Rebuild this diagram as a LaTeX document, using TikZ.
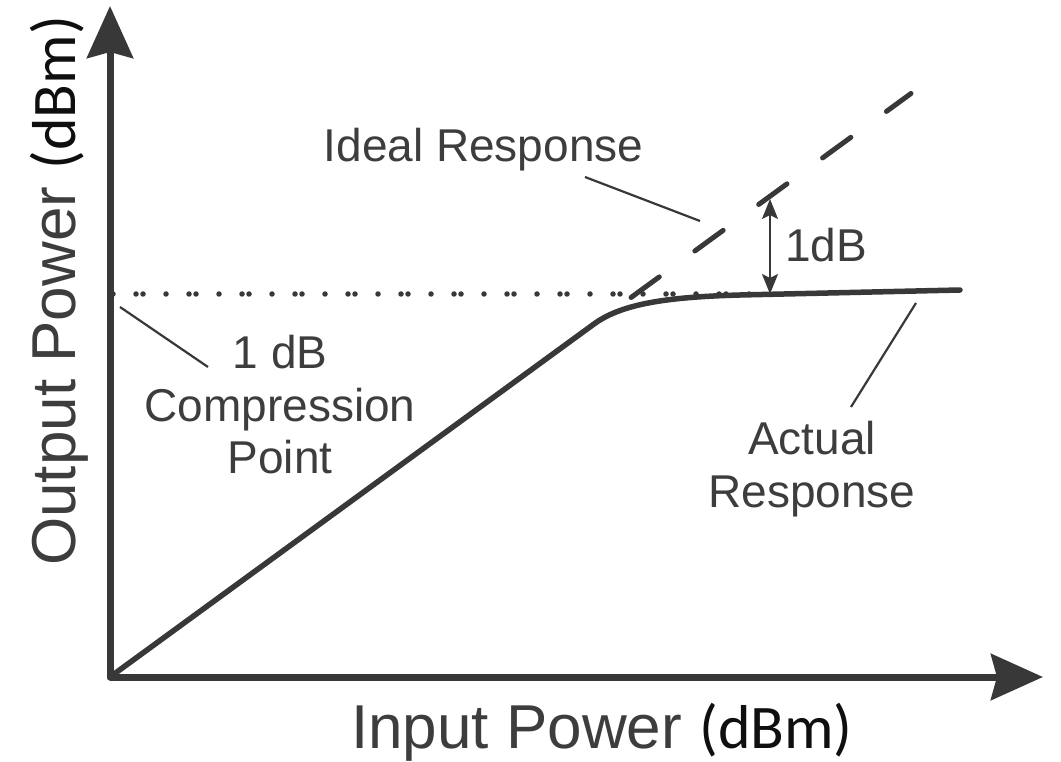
\documentclass[tikz,border=0pt]{standalone}
\usepackage{fontspec}
\setmainfont{Liberation Sans}
\newfontfamily\calfont{Carlito}
\usetikzlibrary{arrows.meta}
\definecolor{ink}{gray}{0.22}
\definecolor{txt}{gray}{0.24}
\definecolor{dark}{gray}{0.06}
\tikzset{
  axisline/.style={draw=ink, line width=7pt, line join=round,
    {Stealth[length=52pt,width=46pt,inset=6pt]}-{Stealth[length=52pt,width=46pt,inset=6pt]}},
  actual/.style={draw=ink, line width=5.5pt, line cap=round, line join=round},
  ideal/.style={draw=ink, line width=5pt, line cap=round, dash pattern=on 35pt off 44pt},
  dotline/.style={draw=ink, line width=5.5pt, line cap=round, dash pattern=on 0pt off 23pt on 0pt off 7pt on 0pt off 23pt},
  dimline/.style={draw=ink, line width=2pt,
    {Stealth[length=20pt,width=16pt,inset=4pt]}-{Stealth[length=20pt,width=16pt,inset=4pt]}},
  leader/.style={draw=ink, line width=2.2pt},
  lbl/.style={text=txt, inner sep=0pt, font=\fontsize{46}{52.5}\selectfont, align=center},
  axlbl/.style={inner sep=0pt, font=\fontsize{62}{70}\selectfont},
}
\begin{document}
\begin{tikzpicture}[x=1pt,y=-1pt]
\useasboundingbox (0,0) rectangle (1061,762);
% axes
\coordinate (O) at (110,677);
\coordinate (ytip) at (110,6);
\coordinate (xtip) at (1043,677);
\draw[axisline] (ytip) -- (O) -- (xtip);
% dotted reference line
\coordinate (d0) at (113,294);
\coordinate (d1) at (762,294);
\draw[dotline] (d0) -- (d1);
% ideal response (dashed)
\coordinate (i0) at (631,297.5);
\coordinate (i1) at (911,93.5);
\draw[ideal] (i0) -- (i1);
% actual response
\coordinate (a1) at (594,324);
\coordinate (a2) at (740,295);
\coordinate (a3) at (960,290);
\draw[actual] (O) -- (a1) .. controls (622,303.5) and (668,297) .. (a2) -- (a3);
% 1 dB marker
\coordinate (m0) at (770,294);
\coordinate (m1) at (770,199);
\draw[dimline] (m0) -- (m1);
\node[lbl, anchor=base] (onedb) at (826,262) {1dB};
% labels
\node[lbl, anchor=base] (ideallbl) at (483.5,162) {Ideal Response};
\coordinate (il0) at (585,177);
\coordinate (il1) at (700,221);
\draw[leader] (il0) -- (il1);
\node[lbl] (comp) at (280,405) {1 dB\\Compression\\Point};
\coordinate (cl0) at (120,307);
\coordinate (cl1) at (208,367);
\draw[leader] (cl0) -- (cl1);
\node[lbl] (actlbl) at (812,469) {Actual\\Response};
\coordinate (al0) at (916,303);
\coordinate (al1) at (851,407);
\draw[leader] (al0) -- (al1);
% axis labels
\node[axlbl, anchor=base west] (xlbl) at (351,748) {\textcolor{txt}{Input Power} \textcolor{dark}{\calfont (dBm)}};
\node[axlbl, anchor=base west, rotate=90] (ylbl) at (75,566) {\textcolor{txt}{Output Power} \textcolor{dark}{\calfont (dBm)}};
\end{tikzpicture}
\end{document}
